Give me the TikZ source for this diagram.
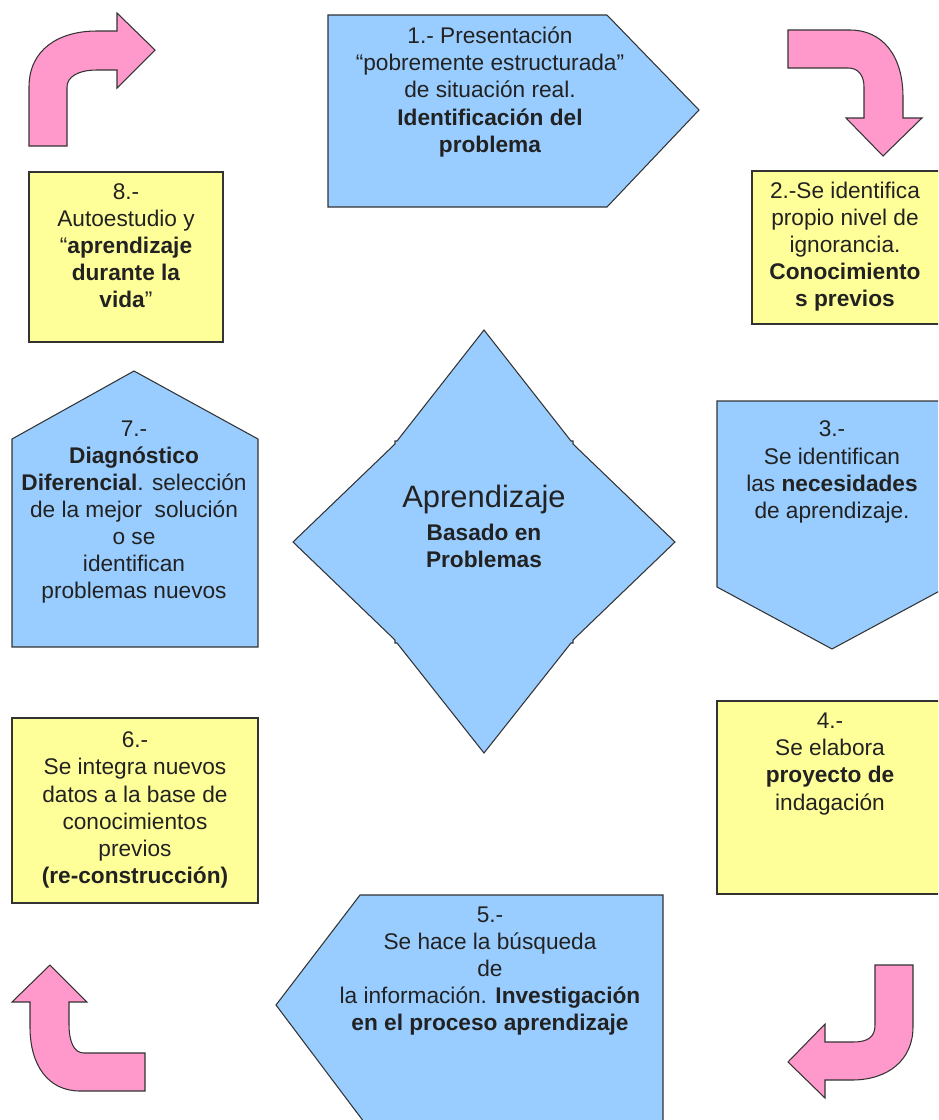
\documentclass[tikz,border=0pt]{standalone}
\usepackage{fontspec}
\setmainfont{Liberation Sans}
\definecolor{pblue}{HTML}{99CCFF}
\definecolor{pyellow}{HTML}{FFFF99}
\definecolor{ppink}{HTML}{FF99CC}
\definecolor{ink}{HTML}{222222}
\definecolor{rim}{HTML}{333333}
\begin{document}
\begin{tikzpicture}[x=0.02cm,y=-0.02cm,
    bluebox/.style={fill=pblue,draw=rim,line width=0.6pt},
    yellowbox/.style={fill=pyellow,draw=rim,line width=0.6pt},
    pinkarrow/.style={fill=ppink,draw=rim,line width=0.6pt},
    boxtext/.style={text=ink,align=center,inner sep=0pt,font=\fontsize{12.9}{15.4}\selectfont}]
    \useasboundingbox (0,0) rectangle (938,1120);
    \clip (0,0) rectangle (938,1120);
    % shapes
    \path[bluebox] (328,15) -- (607,15) -- (699,110) -- (607,207) -- (328,207) -- cycle;
    \path[bluebox] (12,439) -- (134,371) -- (258,439) -- (258,647) -- (12,647) -- cycle;
    \path[bluebox] (717,401) -- (947,401) -- (947,587) -- (832,649) -- (717,587) -- cycle;
    \path[bluebox] (663,895) -- (360,895) -- (276,1005) -- (364,1122) -- (663,1122) -- cycle;
    \path[bluebox] (484,330) -- (397,441) -- (395,441) -- (395,444) -- (293,542)
      -- (395,640) -- (395,643) -- (397,643) -- (484,753) -- (571,643) -- (573,643)
      -- (573,640) -- (675,542) -- (573,444) -- (573,441) -- (571,441) -- cycle;
    \path[yellowbox] (29,172) rectangle (223,342);
    \path[yellowbox] (752,171) rectangle (945,324);
    \path[yellowbox] (12,718) rectangle (258,903);
    \path[yellowbox] (717,701) rectangle (950,894);
    \path[pinkarrow] (29,146) -- (29,87) .. controls (29,50) and (58,31) .. (97,31)
      -- (117,31) -- (117,13) -- (155,50) -- (117,88) -- (117,70) -- (97,70)
      .. controls (78,70) and (67,77) .. (67,87) -- (67,146) -- cycle;
    \path[pinkarrow] (788,30) -- (850,30) .. controls (882,30) and (903,55) .. (903,97)
      -- (903,118) -- (922,118) -- (883,156) -- (846,118) -- (864,118) -- (864,87)
      .. controls (864,75) and (858,68) .. (848,68) -- (788,68) -- cycle;
    \path[pinkarrow] (50,965) -- (87,1002) -- (69,1002) -- (69,1024)
      .. controls (69,1042) and (74,1053) .. (84,1053) -- (145,1053) -- (145,1091)
      -- (80,1091) .. controls (48,1091) and (30,1065) .. (30,1027) -- (30,1002)
      -- (12,1002) -- cycle;
    \path[pinkarrow] (875,965) -- (913,965) -- (913,1027)
      .. controls (913,1060) and (888,1080) .. (852,1080) -- (825,1080) -- (825,1098)
      -- (788,1062) -- (825,1024) -- (825,1042) -- (853,1042)
      .. controls (868,1042) and (875,1037) .. (875,1025) -- cycle;
    % texts
    \begin{scope}[every node/.style={boxtext}]
      \node (step1) at (490,92) {1.- Presentación\\“pobremente estructurada”\\de situación real.\\\textbf{Identificación del}\\\textbf{problema}};
      \node (step2) at (845,247) {2.-Se identifica\\propio nivel de\\ignorancia.\\\textbf{Conocimiento}\\\textbf{s previos}};
      \node (step3) at (832,472) {3.-\\Se identifican\\las \textbf{necesidades}\\de aprendizaje.};
      \node (step4) at (830,764) {4.-\\Se elabora\\\textbf{proyecto de}\\indagación};
      \node (step5) at (490,971) {5.-\\Se hace la búsqueda\\de\\la información. \textbf{Investigación}\\\textbf{en el proceso aprendizaje}};
      \node (step6) at (135,810) {6.-\\Se integra nuevos\\datos a la base de\\conocimientos\\previos\\\textbf{(re-construcción)}};
      \node (step7) at (134,512) {7.-\\\textbf{Diagnóstico}\\\textbf{Diferencial}. selección\\de la mejor~ solución\\o se\\identifican\\problemas nuevos};
      \node (step8) at (126,246) {8.-\\Autoestudio y\\“\textbf{aprendizaje}\\\textbf{durante la}\\\textbf{vida}”};
      \node[font=\fontsize{17.6}{21}\selectfont] (abp) at (484,499) {Aprendizaje};
      \node (abpsub) at (484,546) {\textbf{Basado en}\\\textbf{Problemas}};
    \end{scope}
  \end{tikzpicture}
\end{document}
